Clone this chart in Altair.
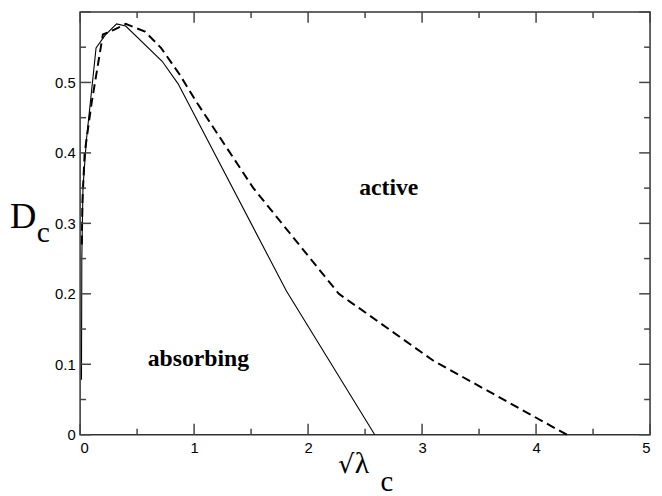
import altair as alt
import pandas as pd

# solid phase boundary
solid_x = [0.012, 0.015, 0.025, 0.055, 0.14, 0.22, 0.32, 0.40, 0.72, 0.86, 1.81, 2.585]
solid_y = [0.078, 0.25, 0.35, 0.418, 0.549, 0.567, 0.583, 0.580, 0.530, 0.498, 0.204, 0.0]

# dashed phase boundary
dashed_x = [0.015, 0.02, 0.04, 0.10, 0.20, 0.30, 0.40, 0.57, 0.71, 0.87, 1.03, 1.52, 2.27, 3.10, 4.27]
dashed_y = [0.27, 0.33, 0.40, 0.47, 0.568, 0.575, 0.583, 0.572, 0.549, 0.512, 0.47, 0.35, 0.20, 0.105, 0.0]

x_major = [0, 1, 2, 3, 4, 5]
x_minor = [0.5, 1.5, 2.5, 3.5, 4.5]
y_major = [0, 0.1, 0.2, 0.3, 0.4, 0.5, 0.6]
y_minor = [0.05, 0.15, 0.25, 0.35, 0.45, 0.55]
y_labels = [0, 0.1, 0.2, 0.3, 0.4, 0.5]

region_labels = ["active", "absorbing"]
region_x = [2.708, 1.038]
region_y = [0.340, 0.097]

W, H = 577, 428
SERIF = "'Liberation Serif', 'DejaVu Serif', serif"

xs = alt.Scale(domain=[0, 5], nice=False, zero=False)
ys = alt.Scale(domain=[0, 0.6], nice=False, zero=False)

df_s = pd.DataFrame({"x": solid_x, "y": solid_y, "i": range(len(solid_x))})
df_d = pd.DataFrame({"x": dashed_x, "y": dashed_y, "i": range(len(dashed_x))})

x_axis = alt.Axis(values=x_major, format="d", tickSize=0, domain=False, grid=False,
                  labelPadding=6, labelFontSize=15, labelFont="Liberation Sans",
                  labelColor="black", title=None)
y_axis = alt.Axis(values=y_labels, tickSize=0, domain=False, grid=False,
                  labelPadding=5, labelFontSize=15, labelFont="Liberation Sans",
                  labelColor="black", title=None,
                  labelExpr="datum.value == 0 ? '0' : format(datum.value, '.1f')")


def X(f):
    return alt.X(f, scale=xs, axis=x_axis)


def Y(f):
    return alt.Y(f, scale=ys, axis=y_axis)


solid = alt.Chart(df_s).mark_line(color="black", strokeWidth=1.1).encode(
    x=X("x:Q"), y=Y("y:Q"), order="i:Q")
dashed = alt.Chart(df_d).mark_line(color="black", strokeWidth=2, strokeDash=[9, 5]).encode(
    x=X("x:Q"), y=Y("y:Q"), order="i:Q")

tick_layers = []
tick_color = "#444"
for vals, ln in ((x_major, 11), (x_minor, 6)):
    d = pd.DataFrame({"v": vals})
    tick_layers.append(alt.Chart(d).mark_rule(color=tick_color, strokeWidth=1.5).encode(
        x=X("v:Q"), y=alt.value(H), y2=alt.value(H - ln)))
    tick_layers.append(alt.Chart(d).mark_rule(color=tick_color, strokeWidth=1.5).encode(
        x=X("v:Q"), y=alt.value(0), y2=alt.value(ln)))
for vals, ln in ((y_major, 11), (y_minor, 6)):
    d = pd.DataFrame({"v": vals})
    tick_layers.append(alt.Chart(d).mark_rule(color=tick_color, strokeWidth=1.5).encode(
        y=Y("v:Q"), x=alt.value(0), x2=alt.value(ln)))
    tick_layers.append(alt.Chart(d).mark_rule(color=tick_color, strokeWidth=1.5).encode(
        y=Y("v:Q"), x=alt.value(W), x2=alt.value(W - ln)))

df_lab = pd.DataFrame({"t": region_labels, "x": region_x, "y": region_y})
labels = alt.Chart(df_lab).mark_text(font=SERIF, fontWeight="bold", fontSize=24,
                                     align="center", baseline="alphabetic", color="black").encode(
    x=X("x:Q"), y=Y("y:Q"), text="t:N")

title_parts = ["D", "c", "\u221a", "\u03bb", "c"]
title_df = pd.DataFrame({"t": title_parts})


def title_text(idx, px, py, size, font=SERIF):
    return alt.Chart(title_df.iloc[[idx]]).mark_text(
        font=font, fontSize=size, align="left", baseline="alphabetic",
        color="black").encode(text="t:N", x=alt.value(px), y=alt.value(py))


titles = [
    title_text(0, -71, 219, 37),
    title_text(1, -44, 233, 30),
    title_text(2, 261, 467, 26, "'DejaVu Serif', serif"),
    title_text(3, 278, 467, 30),
    title_text(4, 304, 485, 29),
]

chart = alt.layer(solid, dashed, *tick_layers, labels, *titles).properties(
    width=W, height=H,
    padding={"left": 73, "top": 1, "right": 4, "bottom": 59},
    autosize="none",
).configure_view(stroke="#333", strokeWidth=1.5)

chart.save("out.html", embed_options={"renderer": "svg", "actions": False})
